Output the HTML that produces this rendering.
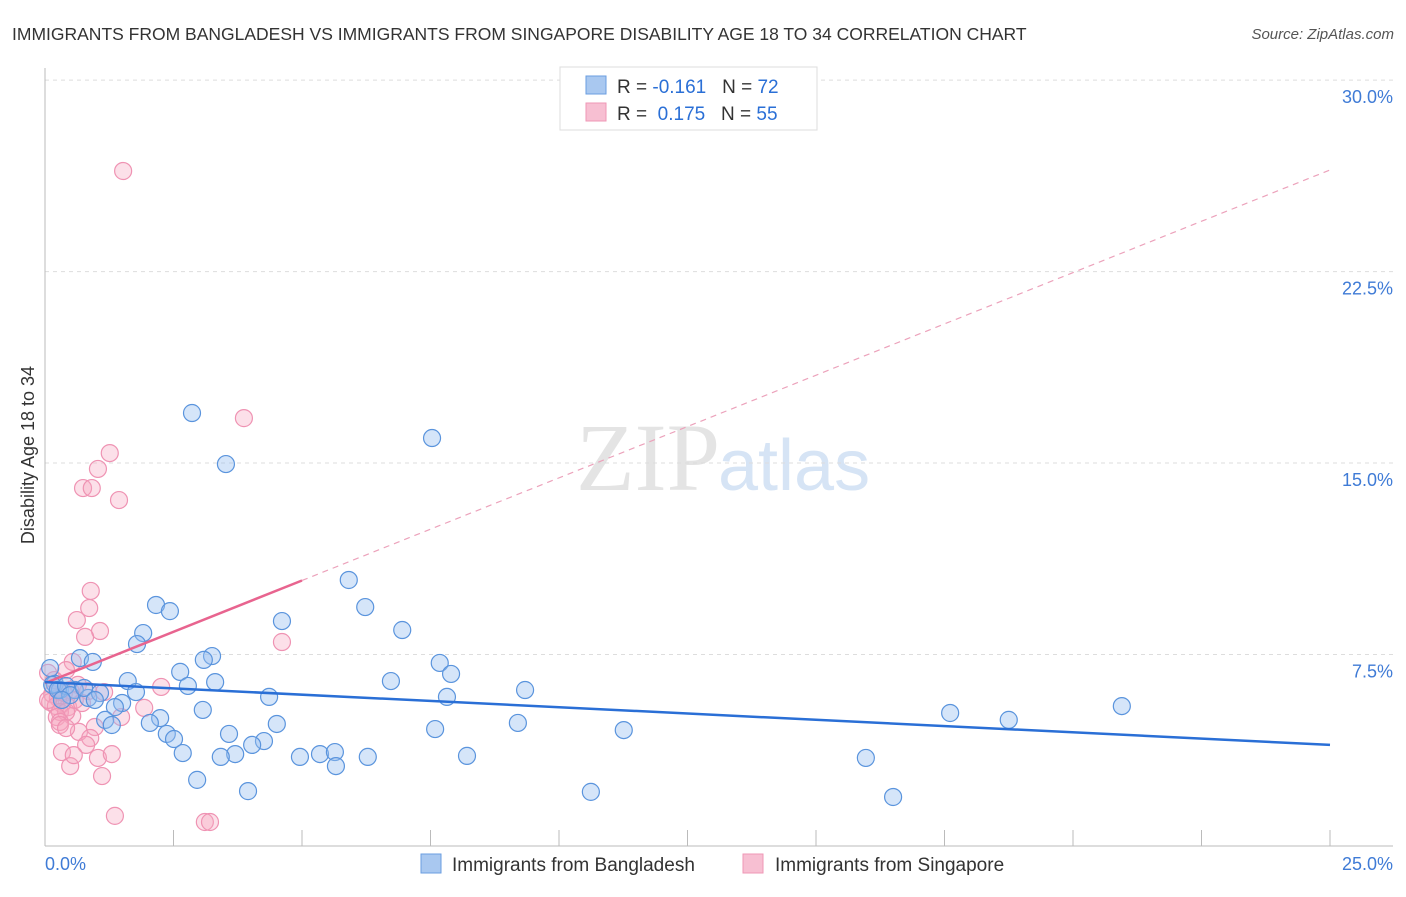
<!DOCTYPE html>
<html><head><meta charset="utf-8"><style>
body{margin:0;background:#fff;font-family:"Liberation Sans",sans-serif}
svg text{font-family:"Liberation Sans",sans-serif}
</style></head><body>
<svg id="chart" width="1406" height="892">
<text x="12" y="40" font-size="17.5" fill="#333">IMMIGRANTS FROM BANGLADESH VS IMMIGRANTS FROM SINGAPORE DISABILITY AGE 18 TO 34 CORRELATION CHART</text>
<text x="1394" y="39" font-size="15" fill="#555" font-style="italic" text-anchor="end">Source: ZipAtlas.com</text>
<text x="720" y="490" font-size="96" fill="#e4e4e4" text-anchor="end" font-family="Liberation Serif" style="font-family:'Liberation Serif',serif">ZIP</text>
<text x="718" y="490" font-size="72" fill="#d6e4f5">atlas</text>
<text transform="translate(34,455) rotate(-90)" font-size="18" fill="#333" text-anchor="middle">Disability Age 18 to 34</text>
<g id="grid"></g><g id="pts"></g><g id="lines"></g>
<g>
<rect x="560" y="67" width="257" height="63" fill="#fff" stroke="#ddd"/>
<rect x="586" y="76" width="20" height="18" fill="#a9c8f0" stroke="#6a9ee0"/>
<rect x="586" y="103" width="20" height="18" fill="#f7bfd2" stroke="#ef97b6"/>
<text x="617" y="93" font-size="19" fill="#333">R = <tspan fill="#2a6fd6">-0.161</tspan>&#160;&#160;&#160;N = <tspan fill="#2a6fd6">72</tspan></text>
<text x="617" y="120" font-size="19" fill="#333">R = &#160;<tspan fill="#2a6fd6">0.175</tspan>&#160;&#160;&#160;N = <tspan fill="#2a6fd6">55</tspan></text>
</g>
<g>
<rect x="421" y="854" width="20" height="19" fill="#a9c8f0" stroke="#6a9ee0"/>
<text x="452" y="871" font-size="19" fill="#333">Immigrants from Bangladesh</text>
<rect x="743" y="854" width="20" height="19" fill="#f7bfd2" stroke="#ef97b6"/>
<text x="775" y="871" font-size="19" fill="#333">Immigrants from Singapore</text>
</g>
</svg>
<script>
const yTicks=[7.5,15,22.5,30];
const yTickLabels=["7.5%","15.0%","22.5%","30.0%"];
const xTickLabels=["0.0%","25.0%"];
const blueX=[2.86,3.52,7.53,5.91,2.16,2.43,6.23,4.61,6.95,1.91,1.79,0.68,0.93,3.25,3.09,2.63,7.68,7.90,6.73,1.61,3.31,2.78,0.19,0.29,0.58,0.84,1.07,1.77,4.36,7.82,9.34,1.50,1.36,3.07,2.24,2.04,1.17,1.30,4.51,9.20,7.59,11.26,3.58,2.37,2.51,4.26,4.03,2.68,3.70,3.42,4.96,5.35,5.64,6.28,8.21,5.66,2.96,3.95,10.62,15.97,16.50,20.95,17.61,18.75,0.10,0.14,0.25,0.41,0.49,0.33,0.76,0.97];
const blueY=[16.96,14.96,15.98,10.42,9.44,9.20,9.36,8.81,8.46,8.34,7.91,7.36,7.21,7.44,7.29,6.82,7.17,6.74,6.46,6.46,6.42,6.27,6.35,6.11,6.11,5.80,5.99,6.03,5.84,5.84,6.11,5.60,5.44,5.33,5.01,4.82,4.94,4.74,4.78,4.82,4.58,4.54,4.39,4.39,4.19,4.11,3.96,3.64,3.60,3.49,3.49,3.60,3.68,3.49,3.53,3.13,2.59,2.15,2.12,3.45,1.92,5.48,5.21,4.94,6.97,6.31,6.11,6.27,5.91,5.72,6.19,5.72];
const pinkX=[1.52,3.87,1.26,1.03,0.74,0.91,1.44,0.89,0.86,0.62,1.07,0.78,4.61,0.54,0.41,0.06,2.26,0.64,0.84,1.15,0.14,0.25,0.10,0.33,0.45,0.21,0.06,0.29,0.53,0.41,0.23,0.29,1.48,1.93,0.97,0.66,0.88,0.80,0.33,0.49,1.03,1.30,0.56,1.11,1.36,3.11,3.21,0.25,0.18,0.37,0.49,0.58,0.72,0.29,0.41];
const pinkY=[26.44,16.76,15.39,14.77,14.02,14.02,13.55,9.99,9.32,8.85,8.42,8.19,7.99,7.21,6.89,6.78,6.23,6.31,6.07,6.03,5.95,5.80,5.64,5.56,5.44,5.48,5.72,5.25,5.09,5.25,5.05,4.86,5.05,5.41,4.66,4.47,4.23,3.96,3.68,3.13,3.45,3.60,3.56,2.74,1.18,0.94,0.94,6.11,6.50,5.99,6.11,5.72,5.60,4.74,4.62];
const blueTrend=[6.42,3.96];
const pinkTrend=[6.38,26.48];
const pinkSolidEnd=5;
const NS="http://www.w3.org/2000/svg";
const X=v=>45+v*51.4, Y=v=>846-v*25.53;
function mk(tag,attrs,parent){const e=document.createElementNS(NS,tag);for(const k in attrs)e.setAttribute(k,attrs[k]);parent.appendChild(e);return e;}
const grid=document.getElementById('grid');
yTicks.forEach((t,i)=>{
 const l=mk('line',{x1:45,x2:1393,y1:Y(t),y2:Y(t),stroke:'#ddd','stroke-dasharray':'4,4'},grid);
 
 
 const tx=mk('text',{x:1393,y:Y(t)+23,'font-size':18,fill:'#3f7bd6','text-anchor':'end'},grid);
 tx.textContent=yTickLabels[i];
 
 
});
let ax=mk('line',{x1:45,x2:45,y1:68,y2:846,stroke:'#bbb'},grid);


ax=mk('line',{x1:45,x2:1393,y1:846,y2:846,stroke:'#bbb'},grid);


for(let i=0;i<=10;i++){
 const t=mk('line',{x1:X(i*2.5),x2:X(i*2.5),y1:830,y2:846,stroke:'#bbb'},grid);
 
 
}
[[0,'start',45],[25,'end',1393]].forEach((d,i)=>{
 const tx=mk('text',{x:d[2],y:870,'font-size':18,fill:'#3f7bd6','text-anchor':d[1]},grid);
 tx.textContent=xTickLabels[i];
 
 
});
const pts=document.getElementById('pts');
pinkX.forEach((v,i)=>{
 const c=mk('circle',{cx:X(v),cy:Y(pinkY[i]),r:8.5,fill:'rgba(245,165,192,0.35)',stroke:'#ef93b3','stroke-width':1.2},pts);
 
 
});
blueX.forEach((v,i)=>{
 const c=mk('circle',{cx:X(v),cy:Y(blueY[i]),r:8.5,fill:'rgba(150,190,240,0.4)',stroke:'#5a94dd','stroke-width':1.2},pts);
 
 
});
const lines=document.getElementById('lines');
const pAt=x=>pinkTrend[0]+(pinkTrend[1]-pinkTrend[0])*x/25;
let ln=mk('line',{x1:X(pinkSolidEnd),y1:Y(pAt(pinkSolidEnd)),x2:X(25),y2:Y(pinkTrend[1]),stroke:'#eca2bb','stroke-width':1.2,'stroke-dasharray':'6,5'},lines);


ln=mk('line',{x1:X(0),y1:Y(pinkTrend[0]),x2:X(pinkSolidEnd),y2:Y(pAt(pinkSolidEnd)),stroke:'#e8648f','stroke-width':2.5},lines);


ln=mk('line',{x1:X(0),y1:Y(blueTrend[0]),x2:X(25),y2:Y(blueTrend[1]),stroke:'#2a6fd6','stroke-width':2.5},lines);


</script>
</body></html>
